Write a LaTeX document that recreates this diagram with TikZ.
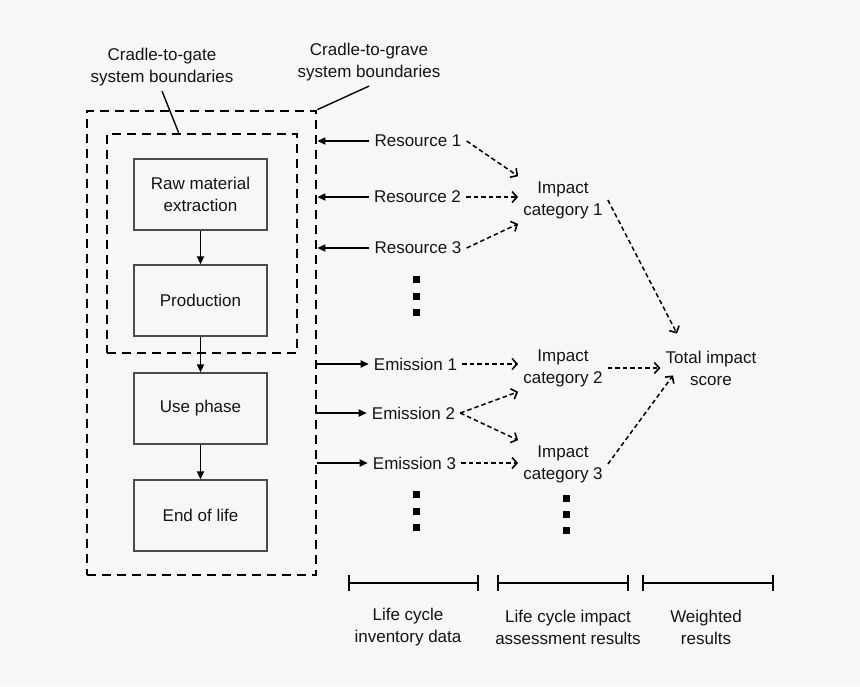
\documentclass[tikz,border=0pt]{standalone}
\usepackage{fontspec}
\setmainfont{Liberation Sans}
\usetikzlibrary{arrows.meta,calc}
\definecolor{bg}{RGB}{247,247,247}
\definecolor{ink}{RGB}{20,20,20}
\begin{document}
\begin{tikzpicture}[x=1pt,y=-1pt,
  lbl/.style={font=\fontsize{17}{22}\selectfont, inner sep=5pt, align=center, text=ink},
  stagebox/.style={draw=black!70, line width=1.3pt, minimum width=133pt, minimum height=71pt,
    font=\fontsize{17}{22}\selectfont, align=center, text=ink},
  boundary/.style={draw=black, line width=2.7pt, dash pattern=on 9pt off 6pt},
  solidarrow/.style={line width=1.7pt, -{Triangle[length=8pt,width=7pt]}},
  dasharrow/.style={line width=1.5pt, dash pattern=on 4.5pt off 3pt, -{Straight Barb[length=5pt,width=11pt,line width=1.6pt]}},
  leader/.style={line width=1.4pt},
  bracketline/.style={line width=2.2pt, {Bar[width=16pt]}-{Bar[width=16pt]}},
  dotsq/.style={fill=black},
]
\fill[bg] (0,0) rectangle (860,686);
\useasboundingbox (0,0) rectangle (860,686);

% boundaries
\node[boundary, minimum width=229pt, minimum height=464pt] (outer) at (201.5,343) {};
\node[boundary, minimum width=190pt, minimum height=219pt] (inner) at (202,243.5) {};

% stages
\node[stagebox] (raw) at (200.5,194.5) {Raw material\\extraction};
\node[stagebox] (prod) at (200.5,300.5) {Production};
\node[stagebox] (use) at (200.5,408.5) {Use phase};
\node[stagebox] (eol) at (200.5,515.5) {End of life};
\draw[solidarrow] (raw.south) -- (prod.north);
\draw[solidarrow] (prod.south) -- (use.north);
\draw[solidarrow] (use.south) -- (eol.north);

% boundary labels
\node[lbl] (gate) at (162,67) {Cradle-to-gate\\system boundaries};
\node[lbl] (grave) at (369,62) {Cradle-to-grave\\system boundaries};
\draw[leader] (gate.south) -- ([xshift=73pt]inner.north west);
\draw[leader] (grave.south) -- (outer.north east);

% resources
\node[lbl] (r1) at (418,141) {Resource 1};
\node[lbl] (r2) at (417.5,197) {Resource 2};
\node[lbl] (r3) at (418,248) {Resource 3};
\draw[solidarrow] (r1.west) -- (r1.west -| outer.east);
\draw[solidarrow] (r2.west) -- (r2.west -| outer.east);
\draw[solidarrow] (r3.west) -- (r3.west -| outer.east);

% emissions
\node[lbl] (e1) at (415.5,364) {Emission 1};
\node[lbl] (e2) at (413.5,413) {Emission 2};
\node[lbl] (e3) at (414.5,463) {Emission 3};
\draw[solidarrow] (e1.west -| outer.east) -- (e1.west);
\draw[solidarrow] (e2.west -| outer.east) -- (e2.west);
\draw[solidarrow] (e3.west -| outer.east) -- (e3.west);

% impact categories
\node[lbl] (ic1) at (563,200) {Impact\\category 1};
\node[lbl] (ic2) at (563,368) {Impact\\category 2};
\node[lbl] (ic3) at (563,464) {Impact\\category 3};
\node[lbl] (total) at (711,368) {Total impact\\score};

\draw[dasharrow] (r1.east) -- (ic1.north west);
\draw[dasharrow] (r2.east) -- (r2.east -| ic1.west);
\draw[dasharrow] (r3.east) -- (ic1.south west);
\draw[dasharrow] (e1.east) -- (e1.east -| ic2.west);
\draw[dasharrow] (e2.east) -- (ic2.south west);
\draw[dasharrow] (e2.east) -- (ic3.north west);
\draw[dasharrow] (e3.east) -- (e3.east -| ic3.west);
\draw[dasharrow] (ic2.east) -- (ic2.east -| total.west);
\draw[dasharrow] (ic1.east) -- ([xshift=-34pt,yshift=12pt]total.north);
\draw[dasharrow] (ic3.east) -- ([xshift=-38pt,yshift=15pt]total.south);

% continuation dots
\foreach \x/\y in {416/279, 416/296, 416/312, 416/494, 416/511, 416/527, 566/498, 566/514, 566/530}
  \fill[dotsq] (\x-3.5,\y-3.5) rectangle (\x+3.5,\y+3.5);

% bottom brackets
\coordinate (b1l) at (348,583); \coordinate (b1r) at (479,583);
\coordinate (b2l) at (497,583); \coordinate (b2r) at (629,583);
\coordinate (b3l) at (642,583); \coordinate (b3r) at (774,583);
\draw[bracketline] (b1l) -- (b1r);
\draw[bracketline] (b2l) -- (b2r);
\draw[bracketline] (b3l) -- (b3r);
\node[lbl] (lci) at (408,627) {Life cycle\\inventory data};
\node[lbl] (lcia) at (568,627) {Life cycle impact\\assessment results};
\node[lbl] (wr) at (706,627) {Weighted\\results};
\end{tikzpicture}
\end{document}
